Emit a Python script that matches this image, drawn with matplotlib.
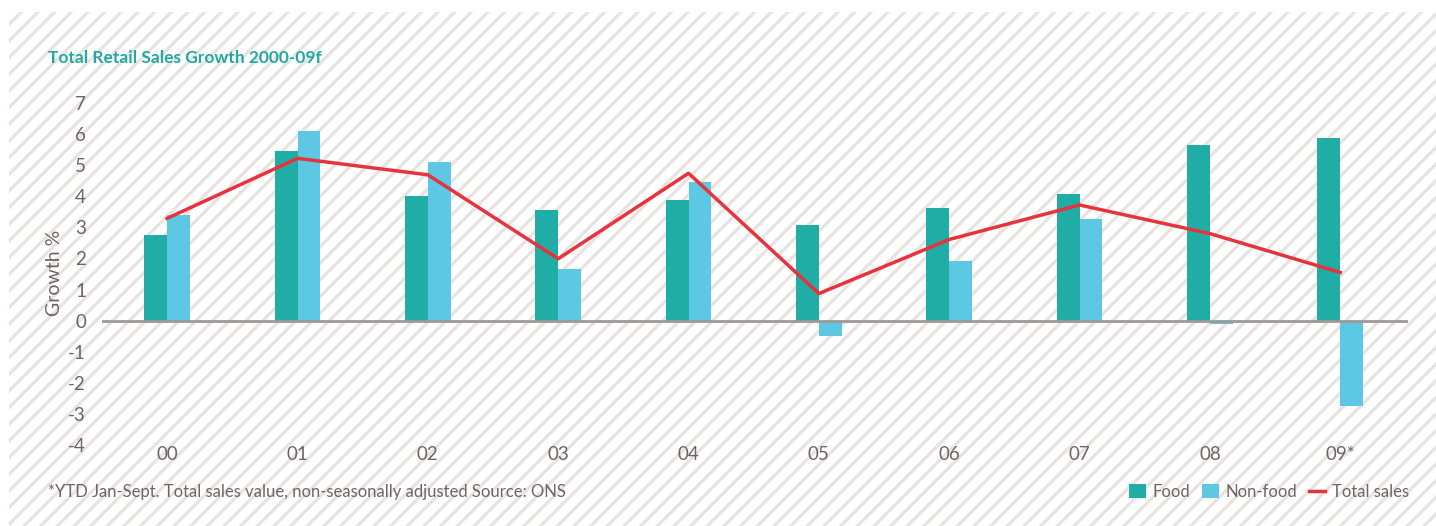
import matplotlib
matplotlib.use("Agg")
import matplotlib.pyplot as plt
from matplotlib.patches import Rectangle, Patch
from matplotlib.lines import Line2D
import numpy as np

years = ["00", "01", "02", "03", "04", "05", "06", "07", "08", "09*"]
food = [2.75, 5.45, 4.0, 3.57, 3.87, 3.07, 3.62, 4.07, 5.64, 5.87]
non_food = [3.39, 6.09, 5.1, 1.66, 4.45, -0.49, 1.91, 3.26, -0.1, -2.74]
total_sales = [3.29, 5.22, 4.69, 1.99, 4.74, 0.87, 2.61, 3.72, 2.80, 1.55]
yticks = [-4, -3, -2, -1, 0, 1, 2, 3, 4, 5, 6, 7]

TEAL = "#1fada5"
BLUE = "#5cc8e3"
RED = "#e8323c"
GREY = "#6e6464"
STRIPE = "#e8e3e0"

plt.rcParams["font.family"] = ["Lato", "DejaVu Sans"]
plt.rcParams["hatch.linewidth"] = 2.3
plt.rcParams["hatch.color"] = STRIPE

W, H = 1436, 526
fig = plt.figure(figsize=(W / 100, H / 100), dpi=100)
fig.patch.set_facecolor("white")

bg = Rectangle((9 / W, 0), 1 - 9 / W, 1 - 12 / H, transform=fig.transFigure,
               facecolor="white", edgecolor=STRIPE, hatch="//", linewidth=0,
               zorder=-10)
fig.patches.append(bg)

ax = fig.add_axes([102 / W, 1 - 445 / H, (1408 - 102) / W, (445 - 103) / H])
ax.patch.set_alpha(0)

x = np.arange(len(years))
bw = 0.176
ax.bar(x - bw / 2, food, width=bw, color=TEAL, zorder=2)
ax.bar(x + bw / 2, non_food, width=bw, color=BLUE, zorder=2)
ax.plot(x, total_sales, color=RED, lw=2.5, zorder=3)
ax.axhline(0, color="#a09898", lw=2, zorder=4)

ax.set_xlim(-0.5, 9.52)
ax.set_ylim(-4, 7)
ax.set_yticks(yticks)
ax.set_yticklabels([str(v) for v in yticks])
ax.set_xticks(x)
ax.set_xticklabels(years)
for s in ax.spines.values():
    s.set_visible(False)
ax.tick_params(axis="both", length=0, colors=GREY, labelsize=13.5)
ax.tick_params(axis="y", pad=11.5)
ax.tick_params(axis="x", pad=1)

ax.set_ylabel("Growth %", color=GREY, fontsize=14)
ax.yaxis.set_label_coords(-0.030, 0.503)

fig.text(48 / W, 1 - 58 / H, "Total Retail Sales Growth 2000-09f", color="#20a99f",
         fontsize=12.5, fontweight="bold", va="center", ha="left")
fig.text(48 / W, 1 - 492 / H,
         "*YTD Jan-Sept. Total sales value, non-seasonally adjusted Source: ONS",
         color=GREY, fontsize=12, va="center", ha="left")

handles = [Patch(facecolor=TEAL, edgecolor="none"),
           Patch(facecolor=BLUE, edgecolor="none"),
           Line2D([0], [0], color=RED, lw=2.5)]
leg = fig.legend(handles, ["Food", "Non-food", "Total sales"], loc="center right",
                 bbox_to_anchor=(1424 / W, 1 - 492 / H), ncol=3, frameon=False,
                 fontsize=12, labelcolor=GREY, handlelength=1.0, handleheight=0.9,
                 handletextpad=0.4, columnspacing=0.7)

fig.savefig("out.png", dpi=100, facecolor="white")
